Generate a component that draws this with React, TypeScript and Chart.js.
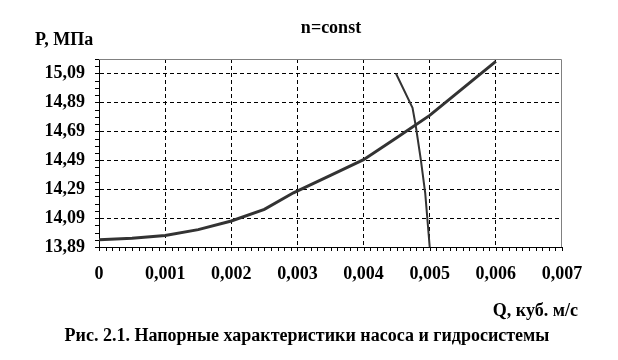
import React, { useEffect, useRef } from "react";
import { Chart, registerables } from "chart.js";

Chart.register(...registerables);

// Характеристика гидросистемы
const systemQ = [0, 0.0005, 0.001, 0.0015, 0.002, 0.0025, 0.00294, 0.0035, 0.004, 0.0045, 0.005, 0.0055, 0.006];
const systemP = [13.94, 13.95, 13.97, 14.01, 14.07, 14.15, 14.265, 14.385, 14.494, 14.646, 14.8, 14.987, 15.174];
// Характеристика насоса
const pumpQ = [0.00449, 0.00474, 0.00479, 0.004866, 0.004932, 0.005];
const pumpP = [15.09, 14.853, 14.725, 14.493, 14.262, 13.89];

const xTicks = [0, 0.001, 0.002, 0.003, 0.004, 0.005, 0.006, 0.007];
const yTicks = [13.89, 14.09, 14.29, 14.49, 14.69, 14.89, 15.09];
const xMin = 0, xMax = 0.007, xMinorStep = 0.0001;
const yMin = 13.89, yMax = 15.19, yMinorStep = 0.05;

const titleText = "n=const";
const yTitle = "P, МПа";
const xTitle = "Q, куб. м/с";
const caption = "Рис. 2.1. Напорные характеристики насоса и гидросистемы";

const FONT = '"Liberation Serif", "Times New Roman", serif';

export default function App() {
  const ref = useRef<HTMLCanvasElement | null>(null);

  useEffect(() => {
    document.body.style.margin = "0";
    const canvas = ref.current;
    if (!canvas) return;

    const decor = {
      id: "decor",
      beforeDatasetsDraw(chart: any) {
        const { ctx, chartArea: a } = chart;
        const xs = chart.scales.x;
        const ys = chart.scales.y;
        ctx.save();
        ctx.strokeStyle = "#808080";
        ctx.lineWidth = 1;
        ctx.beginPath();
        ctx.moveTo(a.left, a.top + 0.5);
        ctx.lineTo(a.right - 0.5, a.top + 0.5);
        ctx.lineTo(a.right - 0.5, a.bottom);
        ctx.stroke();
        ctx.strokeStyle = "#000";
        ctx.beginPath();
        const nx = Math.round((xMax - xMin) / xMinorStep);
        for (let i = 0; i <= nx; i++) {
          const px = Math.round(xs.getPixelForValue(xMin + i * xMinorStep)) + 0.5;
          ctx.moveTo(px, a.bottom);
          ctx.lineTo(px, a.bottom + 4);
        }
        const ny = Math.round((yMax - yMin) / yMinorStep);
        for (let i = 0; i <= ny; i++) {
          const py = Math.round(ys.getPixelForValue(yMin + i * yMinorStep)) + 0.5;
          ctx.moveTo(a.left, py);
          ctx.lineTo(a.left - 4, py);
        }
        ctx.stroke();
        ctx.restore();
      },
      afterDraw(chart: any) {
        const { ctx } = chart;
        ctx.save();
        ctx.fillStyle = "#000";
        ctx.font = `bold 18px ${FONT}`;
        ctx.textBaseline = "alphabetic";
        ctx.textAlign = "center";
        ctx.fillText(titleText, 331, 33);
        ctx.textAlign = "left";
        ctx.fillText(yTitle, 35, 45);
        ctx.textAlign = "right";
        ctx.fillText(xTitle, 578, 316);
        ctx.textAlign = "center";
        ctx.fillText(caption, 307, 341);
        ctx.restore();
      },
    };

    const chart = new Chart(canvas, {
      type: "scatter",
      data: {
        datasets: [
          {
            label: "system",
            data: systemQ.map((q, i) => ({ x: q, y: systemP[i] })),
            showLine: true,
            borderColor: "#333333",
            borderWidth: 3,
            pointRadius: 0,
            tension: 0,
          },
          {
            label: "pump",
            data: pumpQ.map((q, i) => ({ x: q, y: pumpP[i] })),
            showLine: true,
            borderColor: "#333333",
            borderWidth: 2,
            pointRadius: 0,
            tension: 0,
          },
        ],
      },
      options: {
        responsive: false,
        animation: false,
        events: [],
        layout: { padding: { left: 0, top: 59, right: 56, bottom: 0 } },
        plugins: { legend: { display: false }, tooltip: { enabled: false }, title: { display: false } },
        scales: {
          x: {
            type: "linear",
            min: xMin,
            max: xMax,
            afterFit: (s: any) => { s.height = 113; },
            afterBuildTicks: (s: any) => { s.ticks = xTicks.map((v) => ({ value: v })); },
            ticks: {
              padding: 17,
              color: "#000",
              font: { family: FONT, size: 18, weight: "bold" },
              maxRotation: 0,
              autoSkip: false,
              callback: (v: any) => (Number(v) === 0 ? "0" : Number(v).toFixed(3).replace(".", ",")),
            },
            grid: {
              drawTicks: false,
              color: (c: any) => (c.tick && (c.tick.value === xMin || c.tick.value === xMax) ? "rgba(0,0,0,0)" : "#000"),
              lineWidth: 1,
            },
            border: { display: true, color: "#000", width: 1, dash: [4, 3] },
          },
          y: {
            type: "linear",
            min: yMin,
            max: yMax,
            afterFit: (s: any) => { s.width = 99; },
            afterBuildTicks: (s: any) => { s.ticks = yTicks.map((v) => ({ value: v })); },
            ticks: {
              padding: 14,
              color: "#000",
              font: { family: FONT, size: 18, weight: "bold" },
              autoSkip: false,
              callback: (v: any) => Number(v).toFixed(2).replace(".", ","),
            },
            grid: {
              drawTicks: false,
              color: (c: any) => (c.tick && Math.abs(c.tick.value - yMin) < 1e-9 ? "rgba(0,0,0,0)" : "#000"),
              lineWidth: 1,
            },
            border: { display: true, color: "#000", width: 1, dash: [4, 3] },
          },
        },
      },
      plugins: [decor],
    });

    return () => chart.destroy();
  }, []);

  return (
    <div style={{ width: 618, height: 360, background: "#fff" }}>
      <canvas ref={ref} width={618} height={360} style={{ display: "block" }} />
    </div>
  );
}
